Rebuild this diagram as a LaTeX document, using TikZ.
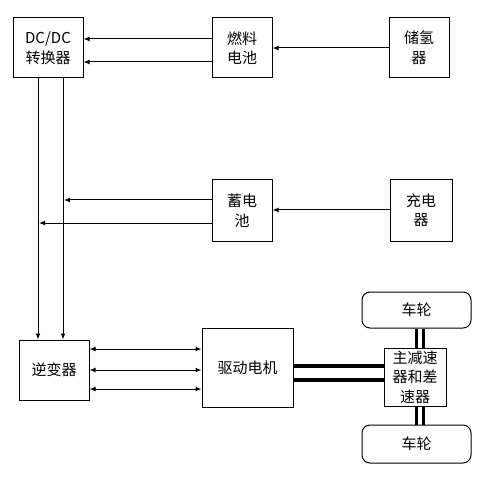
\documentclass[tikz,border=0pt]{standalone}
\usepackage{fontspec}
\setmainfont{Noto Sans CJK SC}
\usetikzlibrary{arrows.meta}
\begin{document}
\begin{tikzpicture}[x=0.75pt,y=-0.75pt,
  box/.style={draw, line width=0.75pt, inner sep=0pt, align=center,
    font=\fontsize{11.25}{14.6}\selectfont},
  sz/.style 2 args={minimum width=#1*0.75pt, minimum height=#2*0.75pt},
  wheel/.style={box, rounded corners=6pt},
  arr/.style={line width=0.75pt, -{Latex[length=4.5pt,width=3.6pt]}},
  darr/.style={line width=0.75pt, {Latex[length=4.5pt,width=3.6pt]}-{Latex[length=4.5pt,width=3.6pt]}},
  thick bar/.style={line width=2.4pt}]
\useasboundingbox (0,0) rectangle (489,481);
\node[box, sz={70}{60}] (dcdc) at (48,48) {DC/DC\\转换器};
\node[box, sz={60}{60}] (fc) at (242,48) {燃料\\电池};
\node[box, sz={60}{60}] (h2) at (419,48) {储氢\\器};
\node[box, sz={60}{61}] (bat) at (242,210.5) {蓄电\\池};
\node[box, sz={62}{61}] (chg) at (421,210.5) {充电\\器};
\node[box, sz={70}{60}] (inv) at (54,370) {逆变器};
\node[box, sz={91}{79}] (mot) at (247.5,367.5) {驱动电机};
\node[box, sz={62}{58}] (diff) at (415,377) {主减速\\器和差\\速器};
\node[wheel, sz={109}{36}] (w1) at (416.5,310) {车轮};
\node[wheel, sz={109}{38}] (w2) at (416.5,444) {车轮};
% fuel cell -> dcdc
\draw[arr] (fc.west |- 0,39) -- (dcdc.east |- 0,39);
\draw[arr] (fc.west |- 0,62) -- (dcdc.east |- 0,62);
% h2 -> fc
\draw[arr] (h2.west |- 0,48) -- (fc.east |- 0,48);
% dcdc -> inverter
\draw[arr] (dcdc.south -| 38,0) -- (inv.north -| 38,0);
\draw[arr] (dcdc.south -| 63,0) -- (inv.north -| 63,0);
% battery -> bus lines
\coordinate (b1) at (64,200);
\coordinate (b2) at (39,223);
\draw[arr] (bat.west |- b1) -- (b1);
\draw[arr] (bat.west |- b2) -- (b2);
% charger -> battery
\draw[arr] (chg.west |- 0,210) -- (bat.east |- 0,210);
% inverter <-> motor
\draw[darr] (inv.east |- 0,349) -- (mot.west |- 0,349);
\draw[darr] (inv.east |- 0,370) -- (mot.west |- 0,370);
\draw[darr] (inv.east |- 0,389) -- (mot.west |- 0,389);
% motor - differential
\draw[thick bar] (mot.east |- 0,366) -- (diff.west |- 0,366);
\draw[thick bar] (mot.east |- 0,380) -- (diff.west |- 0,380);
% differential - wheels
\draw[thick bar] (w1.south -| 416.5,0) -- (diff.north -| 416.5,0);
\draw[thick bar] (w1.south -| 423.5,0) -- (diff.north -| 423.5,0);
\draw[thick bar] (diff.south -| 416.5,0) -- (w2.north -| 416.5,0);
\draw[thick bar] (diff.south -| 423.5,0) -- (w2.north -| 423.5,0);
\end{tikzpicture}
\end{document}
